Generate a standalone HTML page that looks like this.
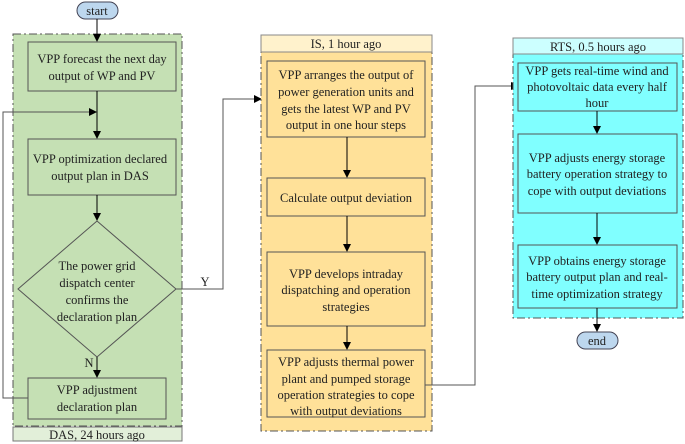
<!DOCTYPE html>
<html><head><meta charset="utf-8"><style>
html,body{margin:0;padding:0;background:#fff;}
svg{display:block;}
svg text{font-family:"Liberation Serif","DejaVu Serif","Noto Serif CJK SC",serif !important;font-size:12.5px;fill:#222;text-anchor:middle;}
</style></head><body>
<svg width="685" height="444" viewBox="0 0 685 444" xmlns="http://www.w3.org/2000/svg" font-family="Liberation Serif, DejaVu Serif, serif">
<defs><marker id="a" markerWidth="8" markerHeight="8" refX="7" refY="4" orient="auto" markerUnits="userSpaceOnUse"><path d="M0,0 L8,4 L0,8 z" fill="#000"/></marker></defs>
<!-- left panel -->
<rect x="13" y="34" width="169" height="392" fill="#c5e0b4" stroke="#555" stroke-dasharray="8,3,2,3"/>
<rect x="13" y="427" width="169" height="14" fill="#e2efd9" stroke="#777"/>
<text x="97" y="439">DAS,  24 hours ago</text>
<rect x="77" y="2" width="41" height="17" rx="8.5" fill="#bdd7ee" stroke="#445"/>
<text x="97" y="15">start</text>
<line x1="97" y1="19" x2="97" y2="41" stroke="#000" marker-end="url(#a)"/>
<rect x="28" y="42" width="148" height="49" fill="#c5e0b4" stroke="#555"/>
<text x="102" y="63">VPP forecast the next day</text><text x="102" y="80">output of WP and PV</text>
<line x1="97" y1="91" x2="97" y2="138" stroke="#000" marker-end="url(#a)"/>
<rect x="28" y="139" width="148" height="56" fill="#c5e0b4" stroke="#555"/>
<text x="100" y="163">VPP optimization declared</text><text x="100" y="180">output plan in DAS</text>
<line x1="97" y1="195" x2="97" y2="220" stroke="#000" marker-end="url(#a)"/>
<polygon points="97,221 176,289 97,357 18,289" fill="#c5e0b4" stroke="#555"/>
<text x="97" y="270">The power grid</text><text x="97" y="287">dispatch center</text><text x="97" y="304">confirms the</text><text x="97" y="321">declaration plan</text>
<line x1="97" y1="357" x2="97" y2="377" stroke="#000" marker-end="url(#a)"/>
<text x="89" y="367">N</text>
<rect x="28" y="378" width="138" height="41" fill="#c5e0b4" stroke="#555"/>
<text x="97" y="394">VPP adjustment</text><text x="97" y="411">declaration plan</text>
<polyline points="28,398 3,398 3,112 96,112" fill="none" stroke="#555" marker-end="url(#a)"/>
<polyline points="176,289 223,289 223,99 261,99" fill="none" stroke="#555" marker-end="url(#a)"/>
<text x="205" y="286">Y</text>
<!-- middle panel -->
<rect x="261" y="52" width="171" height="379" fill="#ffe199" stroke="#555" stroke-dasharray="8,3,2,3"/>
<rect x="261" y="35" width="171" height="17" fill="#fff2cc" stroke="#888"/>
<text x="346" y="48">IS,   1 hour ago</text>
<rect x="267" y="61" width="158" height="76" fill="#ffe199" stroke="#555"/>
<text x="346" y="79">VPP arranges the output of</text><text x="346" y="96">power generation units and</text><text x="346" y="113">gets the latest WP and PV</text><text x="346" y="129">output in one hour steps</text>
<line x1="347" y1="137" x2="347" y2="177" stroke="#000" marker-end="url(#a)"/>
<rect x="267" y="178" width="158" height="38" fill="#ffe199" stroke="#555"/>
<text x="346" y="202">Calculate output deviation</text>
<line x1="347" y1="216" x2="347" y2="251" stroke="#000" marker-end="url(#a)"/>
<rect x="267" y="252" width="158" height="74" fill="#ffe199" stroke="#555"/>
<text x="346" y="278">VPP develops intraday</text><text x="346" y="294">dispatching and operation</text><text x="346" y="311">strategies</text>
<line x1="347" y1="326" x2="347" y2="349" stroke="#000" marker-end="url(#a)"/>
<rect x="267" y="350" width="158" height="67" fill="#ffe199" stroke="#555"/>
<text x="346" y="366">VPP adjusts thermal power</text><text x="346" y="383">plant and pumped storage</text><text x="346" y="399">operation strategies to cope</text><text x="346" y="415">with output deviations</text>
<polyline points="425,385 475,385 475,86 518,86" fill="none" stroke="#555" marker-end="url(#a)"/>
<!-- right panel -->
<rect x="513" y="54" width="170" height="264" fill="#80ffff" stroke="#555" stroke-dasharray="8,3,2,3"/>
<rect x="513" y="38" width="170" height="16" fill="#ccffff" stroke="#888"/>
<text x="598" y="51">RTS,  0.5 hours ago</text>
<rect x="518" y="63" width="159" height="48" fill="#80ffff" stroke="#555"/>
<text x="597" y="75">VPP gets real-time wind and</text><text x="597" y="91">photovoltaic data every half</text><text x="597" y="107">hour</text>
<line x1="597" y1="111" x2="597" y2="133" stroke="#000" marker-end="url(#a)"/>
<rect x="518" y="134" width="159" height="79" fill="#80ffff" stroke="#555"/>
<text x="597" y="162">VPP adjusts energy storage</text><text x="597" y="178">battery operation strategy to</text><text x="597" y="195">cope with output deviations</text>
<line x1="597" y1="213" x2="597" y2="244" stroke="#000" marker-end="url(#a)"/>
<rect x="518" y="245" width="159" height="63" fill="#80ffff" stroke="#555"/>
<text x="597" y="265">VPP obtains energy storage</text><text x="597" y="281">battery output plan and real-</text><text x="597" y="298">time optimization strategy</text>
<line x1="597" y1="308" x2="597" y2="331" stroke="#000" marker-end="url(#a)"/>
<rect x="577" y="332" width="41" height="17" rx="8.5" fill="#bdd7ee" stroke="#445"/>
<text x="597" y="345">end</text>
</svg>
</body></html>
